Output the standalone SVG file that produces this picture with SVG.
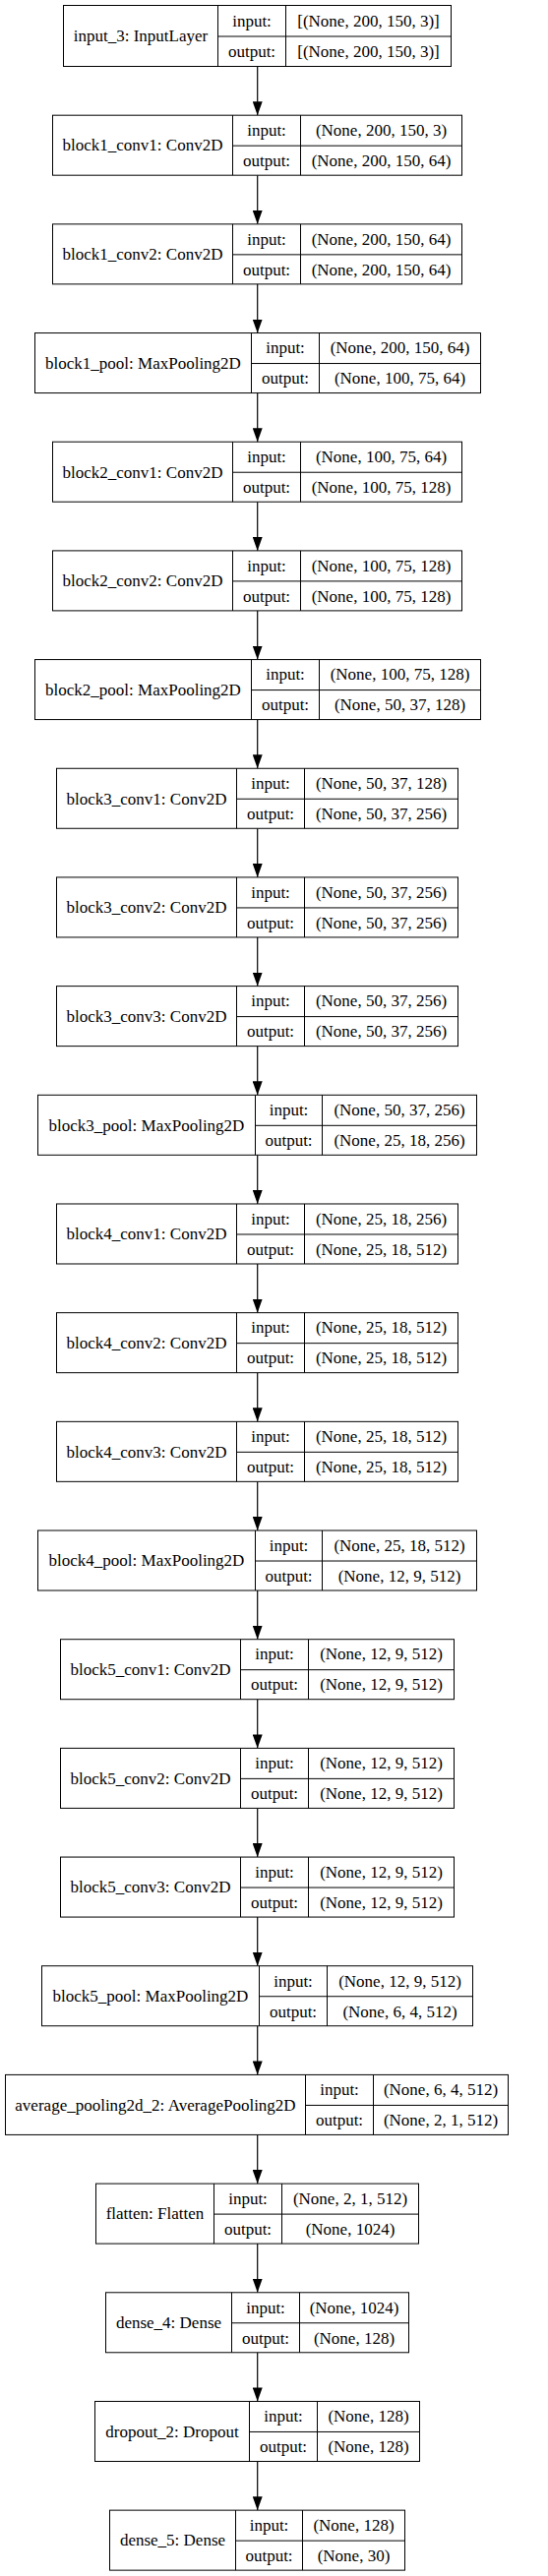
<svg xmlns="http://www.w3.org/2000/svg" width="557" height="2619" viewBox="0 0 557 2619">
<style>
.box{fill:#fff;stroke:#000;stroke-width:1}
.sep{stroke:#000;stroke-width:1}
text{font-family:"Liberation Serif","Times New Roman",serif;font-size:17px;fill:#000;text-anchor:middle}
.edge{stroke:#000;stroke-width:1.2;fill:none}
</style>
<defs>
<marker id="ah" viewBox="0 0 14 10" refX="14" refY="5" markerWidth="14" markerHeight="10" markerUnits="userSpaceOnUse" orient="auto">
<path d="M0,0 L14,5 L0,10 z" fill="#000"/>
</marker>
</defs>
<rect width="557" height="2619" fill="#fff"/>
<g id="connectors">
<path class="edge" marker-end="url(#ah)" d="M261.7,67.5 V117.18"/>
<path class="edge" marker-end="url(#ah)" d="M261.7,178.18 V227.86"/>
<path class="edge" marker-end="url(#ah)" d="M261.7,288.86 V338.54"/>
<path class="edge" marker-end="url(#ah)" d="M261.7,399.54 V449.22"/>
<path class="edge" marker-end="url(#ah)" d="M261.7,510.22 V559.9"/>
<path class="edge" marker-end="url(#ah)" d="M261.7,620.9 V670.58"/>
<path class="edge" marker-end="url(#ah)" d="M261.7,731.58 V781.26"/>
<path class="edge" marker-end="url(#ah)" d="M261.7,842.26 V891.94"/>
<path class="edge" marker-end="url(#ah)" d="M261.7,952.94 V1002.62"/>
<path class="edge" marker-end="url(#ah)" d="M261.7,1063.62 V1113.3"/>
<path class="edge" marker-end="url(#ah)" d="M261.7,1174.3 V1223.98"/>
<path class="edge" marker-end="url(#ah)" d="M261.7,1284.98 V1334.66"/>
<path class="edge" marker-end="url(#ah)" d="M261.7,1395.66 V1445.34"/>
<path class="edge" marker-end="url(#ah)" d="M261.7,1506.34 V1556.02"/>
<path class="edge" marker-end="url(#ah)" d="M261.7,1617.02 V1666.7"/>
<path class="edge" marker-end="url(#ah)" d="M261.7,1727.7 V1777.38"/>
<path class="edge" marker-end="url(#ah)" d="M261.7,1838.38 V1888.06"/>
<path class="edge" marker-end="url(#ah)" d="M261.7,1949.06 V1998.74"/>
<path class="edge" marker-end="url(#ah)" d="M261.7,2059.74 V2109.42"/>
<path class="edge" marker-end="url(#ah)" d="M261.7,2170.42 V2220.1"/>
<path class="edge" marker-end="url(#ah)" d="M261.7,2281.1 V2330.78"/>
<path class="edge" marker-end="url(#ah)" d="M261.7,2391.78 V2441.46"/>
<path class="edge" marker-end="url(#ah)" d="M261.7,2502.46 V2552.14"/>
</g>

<g id="input_3" transform="translate(0,5.5)">
<rect class="box" x="64.5" y="0" width="394" height="62"/>
<path class="sep" d="M221.5,0 V62 M290.5,0 V62 M221.5,31.5 H458.5"/>
<text x="143" y="36.6">input_3: InputLayer</text>
<text x="256" y="21">input:</text>
<text x="256" y="52.5">output:</text>
<text x="374.5" y="21">[(None, 200, 150, 3)]</text>
<text x="374.5" y="52.5">[(None, 200, 150, 3)]</text>
</g>

<g id="block1_conv1" transform="translate(0,117.18)">
<rect class="box" x="53.5" y="0" width="416" height="61"/>
<path class="sep" d="M236.5,0 V61 M305.5,0 V61 M236.5,31 H469.5"/>
<text x="145" y="36.3">block1_conv1: Conv2D</text>
<text x="271" y="20.8">input:</text>
<text x="271" y="51.8">output:</text>
<text x="387.5" y="20.8">(None, 200, 150, 3)</text>
<text x="387.5" y="51.8">(None, 200, 150, 64)</text>
</g>

<g id="block1_conv2" transform="translate(0,227.86)">
<rect class="box" x="53.5" y="0" width="416" height="61"/>
<path class="sep" d="M236.5,0 V61 M305.5,0 V61 M236.5,31 H469.5"/>
<text x="145" y="36.3">block1_conv2: Conv2D</text>
<text x="271" y="20.8">input:</text>
<text x="271" y="51.8">output:</text>
<text x="387.5" y="20.8">(None, 200, 150, 64)</text>
<text x="387.5" y="51.8">(None, 200, 150, 64)</text>
</g>

<g id="block1_pool" transform="translate(0,338.54)">
<rect class="box" x="35.5" y="0" width="453" height="61"/>
<path class="sep" d="M255.5,0 V61 M324.5,0 V61 M255.5,31 H488.5"/>
<text x="145.5" y="36.3">block1_pool: MaxPooling2D</text>
<text x="290" y="20.8">input:</text>
<text x="290" y="51.8">output:</text>
<text x="406.5" y="20.8">(None, 200, 150, 64)</text>
<text x="406.5" y="51.8">(None, 100, 75, 64)</text>
</g>

<g id="block2_conv1" transform="translate(0,449.22)">
<rect class="box" x="53.5" y="0" width="416" height="61"/>
<path class="sep" d="M236.5,0 V61 M305.5,0 V61 M236.5,31 H469.5"/>
<text x="145" y="36.3">block2_conv1: Conv2D</text>
<text x="271" y="20.8">input:</text>
<text x="271" y="51.8">output:</text>
<text x="387.5" y="20.8">(None, 100, 75, 64)</text>
<text x="387.5" y="51.8">(None, 100, 75, 128)</text>
</g>

<g id="block2_conv2" transform="translate(0,559.9)">
<rect class="box" x="53.5" y="0" width="416" height="61"/>
<path class="sep" d="M236.5,0 V61 M305.5,0 V61 M236.5,31 H469.5"/>
<text x="145" y="36.3">block2_conv2: Conv2D</text>
<text x="271" y="20.8">input:</text>
<text x="271" y="51.8">output:</text>
<text x="387.5" y="20.8">(None, 100, 75, 128)</text>
<text x="387.5" y="51.8">(None, 100, 75, 128)</text>
</g>

<g id="block2_pool" transform="translate(0,670.58)">
<rect class="box" x="35.5" y="0" width="453" height="61"/>
<path class="sep" d="M255.5,0 V61 M324.5,0 V61 M255.5,31 H488.5"/>
<text x="145.5" y="36.3">block2_pool: MaxPooling2D</text>
<text x="290" y="20.8">input:</text>
<text x="290" y="51.8">output:</text>
<text x="406.5" y="20.8">(None, 100, 75, 128)</text>
<text x="406.5" y="51.8">(None, 50, 37, 128)</text>
</g>

<g id="block3_conv1" transform="translate(0,781.26)">
<rect class="box" x="57.5" y="0" width="408" height="61"/>
<path class="sep" d="M240.5,0 V61 M309.5,0 V61 M240.5,31 H465.5"/>
<text x="149" y="36.3">block3_conv1: Conv2D</text>
<text x="275" y="20.8">input:</text>
<text x="275" y="51.8">output:</text>
<text x="387.5" y="20.8">(None, 50, 37, 128)</text>
<text x="387.5" y="51.8">(None, 50, 37, 256)</text>
</g>

<g id="block3_conv2" transform="translate(0,891.94)">
<rect class="box" x="57.5" y="0" width="408" height="61"/>
<path class="sep" d="M240.5,0 V61 M309.5,0 V61 M240.5,31 H465.5"/>
<text x="149" y="36.3">block3_conv2: Conv2D</text>
<text x="275" y="20.8">input:</text>
<text x="275" y="51.8">output:</text>
<text x="387.5" y="20.8">(None, 50, 37, 256)</text>
<text x="387.5" y="51.8">(None, 50, 37, 256)</text>
</g>

<g id="block3_conv3" transform="translate(0,1002.62)">
<rect class="box" x="57.5" y="0" width="408" height="61"/>
<path class="sep" d="M240.5,0 V61 M309.5,0 V61 M240.5,31 H465.5"/>
<text x="149" y="36.3">block3_conv3: Conv2D</text>
<text x="275" y="20.8">input:</text>
<text x="275" y="51.8">output:</text>
<text x="387.5" y="20.8">(None, 50, 37, 256)</text>
<text x="387.5" y="51.8">(None, 50, 37, 256)</text>
</g>

<g id="block3_pool" transform="translate(0,1113.3)">
<rect class="box" x="38.5" y="0" width="446" height="61"/>
<path class="sep" d="M259.5,0 V61 M327.5,0 V61 M259.5,31 H484.5"/>
<text x="149" y="36.3">block3_pool: MaxPooling2D</text>
<text x="293.5" y="20.8">input:</text>
<text x="293.5" y="51.8">output:</text>
<text x="406" y="20.8">(None, 50, 37, 256)</text>
<text x="406" y="51.8">(None, 25, 18, 256)</text>
</g>

<g id="block4_conv1" transform="translate(0,1223.98)">
<rect class="box" x="57.5" y="0" width="408" height="61"/>
<path class="sep" d="M240.5,0 V61 M309.5,0 V61 M240.5,31 H465.5"/>
<text x="149" y="36.3">block4_conv1: Conv2D</text>
<text x="275" y="20.8">input:</text>
<text x="275" y="51.8">output:</text>
<text x="387.5" y="20.8">(None, 25, 18, 256)</text>
<text x="387.5" y="51.8">(None, 25, 18, 512)</text>
</g>

<g id="block4_conv2" transform="translate(0,1334.66)">
<rect class="box" x="57.5" y="0" width="408" height="61"/>
<path class="sep" d="M240.5,0 V61 M309.5,0 V61 M240.5,31 H465.5"/>
<text x="149" y="36.3">block4_conv2: Conv2D</text>
<text x="275" y="20.8">input:</text>
<text x="275" y="51.8">output:</text>
<text x="387.5" y="20.8">(None, 25, 18, 512)</text>
<text x="387.5" y="51.8">(None, 25, 18, 512)</text>
</g>

<g id="block4_conv3" transform="translate(0,1445.34)">
<rect class="box" x="57.5" y="0" width="408" height="61"/>
<path class="sep" d="M240.5,0 V61 M309.5,0 V61 M240.5,31 H465.5"/>
<text x="149" y="36.3">block4_conv3: Conv2D</text>
<text x="275" y="20.8">input:</text>
<text x="275" y="51.8">output:</text>
<text x="387.5" y="20.8">(None, 25, 18, 512)</text>
<text x="387.5" y="51.8">(None, 25, 18, 512)</text>
</g>

<g id="block4_pool" transform="translate(0,1556.02)">
<rect class="box" x="38.5" y="0" width="446" height="61"/>
<path class="sep" d="M259.5,0 V61 M327.5,0 V61 M259.5,31 H484.5"/>
<text x="149" y="36.3">block4_pool: MaxPooling2D</text>
<text x="293.5" y="20.8">input:</text>
<text x="293.5" y="51.8">output:</text>
<text x="406" y="20.8">(None, 25, 18, 512)</text>
<text x="406" y="51.8">(None, 12, 9, 512)</text>
</g>

<g id="block5_conv1" transform="translate(0,1666.7)">
<rect class="box" x="61.5" y="0" width="400" height="61"/>
<path class="sep" d="M244.5,0 V61 M313.5,0 V61 M244.5,31 H461.5"/>
<text x="153" y="36.3">block5_conv1: Conv2D</text>
<text x="279" y="20.8">input:</text>
<text x="279" y="51.8">output:</text>
<text x="387.5" y="20.8">(None, 12, 9, 512)</text>
<text x="387.5" y="51.8">(None, 12, 9, 512)</text>
</g>

<g id="block5_conv2" transform="translate(0,1777.38)">
<rect class="box" x="61.5" y="0" width="400" height="61"/>
<path class="sep" d="M244.5,0 V61 M313.5,0 V61 M244.5,31 H461.5"/>
<text x="153" y="36.3">block5_conv2: Conv2D</text>
<text x="279" y="20.8">input:</text>
<text x="279" y="51.8">output:</text>
<text x="387.5" y="20.8">(None, 12, 9, 512)</text>
<text x="387.5" y="51.8">(None, 12, 9, 512)</text>
</g>

<g id="block5_conv3" transform="translate(0,1888.06)">
<rect class="box" x="61.5" y="0" width="400" height="61"/>
<path class="sep" d="M244.5,0 V61 M313.5,0 V61 M244.5,31 H461.5"/>
<text x="153" y="36.3">block5_conv3: Conv2D</text>
<text x="279" y="20.8">input:</text>
<text x="279" y="51.8">output:</text>
<text x="387.5" y="20.8">(None, 12, 9, 512)</text>
<text x="387.5" y="51.8">(None, 12, 9, 512)</text>
</g>

<g id="block5_pool" transform="translate(0,1998.74)">
<rect class="box" x="42.5" y="0" width="438" height="61"/>
<path class="sep" d="M263.5,0 V61 M332.5,0 V61 M263.5,31 H480.5"/>
<text x="153" y="36.3">block5_pool: MaxPooling2D</text>
<text x="298" y="20.8">input:</text>
<text x="298" y="51.8">output:</text>
<text x="406.5" y="20.8">(None, 12, 9, 512)</text>
<text x="406.5" y="51.8">(None, 6, 4, 512)</text>
</g>

<g id="average_pooling2d_2" transform="translate(0,2109.42)">
<rect class="box" x="5.5" y="0" width="511" height="61"/>
<path class="sep" d="M310.5,0 V61 M379.5,0 V61 M310.5,31 H516.5"/>
<text x="158" y="36.3">average_pooling2d_2: AveragePooling2D</text>
<text x="345" y="20.8">input:</text>
<text x="345" y="51.8">output:</text>
<text x="448" y="20.8">(None, 6, 4, 512)</text>
<text x="448" y="51.8">(None, 2, 1, 512)</text>
</g>

<g id="flatten" transform="translate(0,2220.1)">
<rect class="box" x="97.5" y="0" width="328" height="61"/>
<path class="sep" d="M217.5,0 V61 M286.5,0 V61 M217.5,31 H425.5"/>
<text x="157.5" y="36.3">flatten: Flatten</text>
<text x="252" y="20.8">input:</text>
<text x="252" y="51.8">output:</text>
<text x="356" y="20.8">(None, 2, 1, 512)</text>
<text x="356" y="51.8">(None, 1024)</text>
</g>

<g id="dense_4" transform="translate(0,2330.78)">
<rect class="box" x="107.5" y="0" width="308" height="61"/>
<path class="sep" d="M235.5,0 V61 M304.5,0 V61 M235.5,31 H415.5"/>
<text x="171.5" y="36.3">dense_4: Dense</text>
<text x="270" y="20.8">input:</text>
<text x="270" y="51.8">output:</text>
<text x="360" y="20.8">(None, 1024)</text>
<text x="360" y="51.8">(None, 128)</text>
</g>

<g id="dropout_2" transform="translate(0,2441.46)">
<rect class="box" x="96.5" y="0" width="330" height="61"/>
<path class="sep" d="M253.5,0 V61 M322.5,0 V61 M253.5,31 H426.5"/>
<text x="175" y="36.3">dropout_2: Dropout</text>
<text x="288" y="20.8">input:</text>
<text x="288" y="51.8">output:</text>
<text x="374.5" y="20.8">(None, 128)</text>
<text x="374.5" y="51.8">(None, 128)</text>
</g>

<g id="dense_5" transform="translate(0,2552.14)">
<rect class="box" x="111.5" y="0" width="300" height="61"/>
<path class="sep" d="M239.5,0 V61 M307.5,0 V61 M239.5,31 H411.5"/>
<text x="175.5" y="36.3">dense_5: Dense</text>
<text x="273.5" y="20.8">input:</text>
<text x="273.5" y="51.8">output:</text>
<text x="359.5" y="20.8">(None, 128)</text>
<text x="359.5" y="51.8">(None, 30)</text>
</g>
</svg>
